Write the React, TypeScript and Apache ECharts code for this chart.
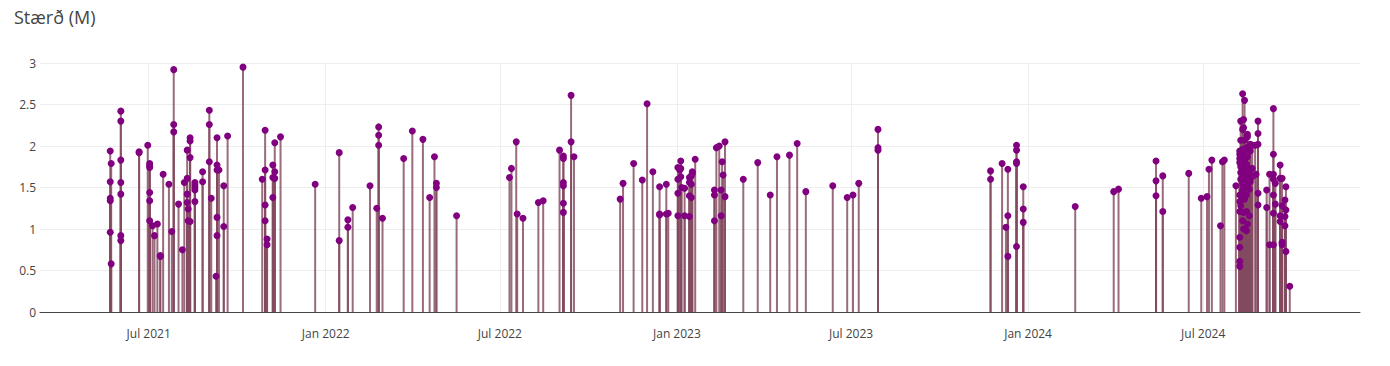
import { useEffect, useRef } from "react";
import * as echarts from "echarts";

const titleText = "Stærð (M)";
const monthNames = ["Jan", "Feb", "Mar", "Apr", "May", "Jun", "Jul", "Aug", "Sep", "Oct", "Nov", "Dec"];
const xTickDates = ["2021-07-01", "2022-01-01", "2022-07-01", "2023-01-01", "2023-07-01", "2024-01-01", "2024-07-01"];
const xRange = ["2021-03-10", "2024-12-11"];
const yTicks = [0, 0.5, 1, 1.5, 2, 2.5, 3];

const quakes2021: [string, number[]][] = [
  ["2021-05-22", [1.94, 1.57, 1.37, 1.34, 0.96]],
  ["2021-05-23", [1.79, 0.58]],
  ["2021-06-02", [2.42, 2.3, 1.83, 1.56, 1.42, 0.92, 0.86]],
  ["2021-06-21", [1.93, 1.92]],
  ["2021-06-30", [2.01]],
  ["2021-07-02", [1.79, 1.76, 1.74, 1.44, 1.34, 1.1]],
  ["2021-07-05", [1.04]],
  ["2021-07-07", [0.92]],
  ["2021-07-10", [1.06]],
  ["2021-07-13", [0.68, 0.67]],
  ["2021-07-16", [1.66]],
  ["2021-07-22", [1.54]],
  ["2021-07-25", [0.97]],
  ["2021-07-27", [2.92, 2.26, 2.17]],
  ["2021-08-01", [1.3]],
  ["2021-08-05", [0.75]],
  ["2021-08-07", [1.56]],
  ["2021-08-10", [1.95, 1.61, 1.42, 1.32]],
  ["2021-08-11", [1.24, 1.1]],
  ["2021-08-13", [2.1, 2.06, 1.86, 1.09]],
  ["2021-08-18", [1.56, 1.53, 1.5, 1.47, 1.33]],
  ["2021-08-26", [1.69, 1.57]],
  ["2021-09-02", [2.43, 2.26, 1.81]],
  ["2021-09-04", [1.37]],
  ["2021-09-09", [0.43]],
  ["2021-09-10", [2.1, 1.77, 1.71, 1.14, 0.92]],
  ["2021-09-12", [1.71]],
  ["2021-09-17", [1.52, 1.03]],
  ["2021-09-21", [2.12]],
  ["2021-10-07", [2.95]],
  ["2021-10-27", [1.6]],
  ["2021-10-30", [2.19, 1.71, 1.29, 1.1]],
  ["2021-11-01", [0.88, 0.81]],
  ["2021-11-07", [1.77, 1.62, 1.38]],
  ["2021-11-09", [2.04, 1.69, 1.61]],
  ["2021-11-15", [2.11]],
  ["2021-12-21", [1.54]],
];

const quakes2022: [string, number[]][] = [
  ["2022-01-15", [1.92, 0.86]],
  ["2022-01-24", [1.11, 1.02]],
  ["2022-01-29", [1.26]],
  ["2022-02-16", [1.52]],
  ["2022-02-23", [1.25]],
  ["2022-02-25", [2.23, 2.13, 2.01]],
  ["2022-03-01", [1.13]],
  ["2022-03-23", [1.85]],
  ["2022-04-01", [2.18]],
  ["2022-04-12", [2.08]],
  ["2022-04-19", [1.38]],
  ["2022-04-24", [1.87]],
  ["2022-04-26", [1.55, 1.5]],
  ["2022-05-17", [1.16]],
  ["2022-07-11", [1.62]],
  ["2022-07-13", [1.73]],
  ["2022-07-18", [2.05]],
  ["2022-07-19", [1.18]],
  ["2022-07-25", [1.13]],
  ["2022-08-10", [1.32]],
  ["2022-08-15", [1.34]],
  ["2022-09-01", [1.95]],
  ["2022-09-05", [1.88, 1.85, 1.56, 1.52, 1.31, 1.2]],
  ["2022-09-13", [2.61, 2.05]],
  ["2022-09-16", [1.87]],
  ["2022-11-03", [1.36]],
  ["2022-11-06", [1.55]],
  ["2022-11-17", [1.79]],
  ["2022-11-26", [1.59]],
  ["2022-12-01", [2.51]],
  ["2022-12-07", [1.69]],
  ["2022-12-14", [1.51, 1.18, 1.17]],
  ["2022-12-21", [1.54, 1.18]],
  ["2022-12-23", [1.19]],
];

const quakes2023: [string, number[]][] = [
  ["2023-01-02", [1.74, 1.6, 1.43, 1.16]],
  ["2023-01-04", [1.71]],
  ["2023-01-05", [1.82, 1.73, 1.63]],
  ["2023-01-06", [1.5]],
  ["2023-01-09", [1.49, 1.16]],
  ["2023-01-14", [1.62, 1.56, 1.4, 1.15]],
  ["2023-01-16", [1.64, 1.54, 1.38]],
  ["2023-01-17", [1.69, 1.67]],
  ["2023-01-20", [1.84]],
  ["2023-02-09", [1.47, 1.41, 1.1]],
  ["2023-02-11", [1.98]],
  ["2023-02-14", [2.0]],
  ["2023-02-16", [1.47, 1.16]],
  ["2023-02-17", [1.81]],
  ["2023-02-18", [1.65]],
  ["2023-02-20", [2.05, 1.39]],
  ["2023-03-11", [1.6]],
  ["2023-03-26", [1.8]],
  ["2023-04-08", [1.41]],
  ["2023-04-15", [1.87]],
  ["2023-04-28", [1.89]],
  ["2023-05-06", [2.03]],
  ["2023-05-15", [1.45]],
  ["2023-06-12", [1.52]],
  ["2023-06-27", [1.38]],
  ["2023-07-03", [1.41]],
  ["2023-07-09", [1.55]],
  ["2023-07-29", [2.2, 1.98, 1.95]],
  ["2023-11-23", [1.7, 1.6]],
  ["2023-12-05", [1.79]],
  ["2023-12-09", [1.02]],
  ["2023-12-11", [1.72, 1.16, 0.67]],
  ["2023-12-20", [2.01, 1.95, 1.81, 1.79, 0.79]],
  ["2023-12-27", [1.51, 1.24, 1.08]],
];

const quakes2024: [string, number[]][] = [
  ["2024-02-19", [1.27]],
  ["2024-03-30", [1.45]],
  ["2024-04-04", [1.48]],
  ["2024-05-13", [1.82, 1.58, 1.4]],
  ["2024-05-20", [1.64, 1.21]],
  ["2024-06-16", [1.67]],
  ["2024-06-29", [1.37]],
  ["2024-07-05", [1.39]],
  ["2024-07-07", [1.72]],
  ["2024-07-10", [1.83]],
  ["2024-07-19", [1.04]],
  ["2024-07-21", [1.81]],
  ["2024-07-23", [1.83]],
  ["2024-08-04", [1.52]],
  ["2024-08-08", [1.94, 1.9, 1.85, 1.8, 1.41, 1.33, 1.21, 0.9, 0.78, 0.61, 0.55]],
  ["2024-08-09", [2.3, 2.07, 1.75, 1.68, 1.6, 1.28]],
  ["2024-08-11", [2.63, 2.2, 1.96, 1.88, 1.72, 1.55, 1.46, 1.1]],
  ["2024-08-12", [2.32, 2.22, 1.92, 1.65, 1.5, 1.2, 1.0]],
  ["2024-08-13", [2.55, 2.07, 1.82, 1.7, 1.58, 1.36]],
  ["2024-08-15", [1.98, 1.78, 1.62, 1.41, 1.21, 0.98]],
  ["2024-08-16", [2.14, 2.11, 1.87, 1.74, 1.53, 1.06]],
  ["2024-08-18", [2.0, 1.67, 1.48, 1.16]],
  ["2024-08-19", [2.02, 1.94, 1.57]],
  ["2024-08-21", [2.01, 1.73, 1.63]],
  ["2024-08-24", [2.01]],
  ["2024-08-25", [1.66]],
  ["2024-08-27", [2.3, 2.15, 2.02, 1.43, 1.29]],
  ["2024-09-05", [1.47, 1.26]],
  ["2024-09-08", [1.66, 0.81]],
  ["2024-09-12", [2.45, 1.9, 1.66, 1.6, 1.41, 1.19, 0.81]],
  ["2024-09-14", [1.55, 1.3]],
  ["2024-09-19", [1.77, 1.61, 1.16, 1.09]],
  ["2024-09-21", [1.61, 1.28, 0.84, 0.81]],
  ["2024-09-24", [1.35, 1.15, 1.04]],
  ["2024-09-25", [1.51, 1.23, 0.73]],
  ["2024-09-29", [0.31]],
];

function toTs(s: string): number {
  const [y, m, d] = s.split("-").map(Number);
  return Date.UTC(y, m - 1, d);
}

export default function App() {
  const ref = useRef<HTMLDivElement>(null);

  useEffect(() => {
    document.body.style.margin = "0";
    if (!ref.current) return;
    const chart = echarts.init(ref.current, null, { renderer: "svg" });
    const all = [...quakes2021, ...quakes2022, ...quakes2023, ...quakes2024];
    const points: [number, number][] = [];
    all.forEach(([d, vs]) => vs.forEach((v) => points.push([toTs(d), v])));
    const font = "'Open Sans', verdana, arial, sans-serif";
    const tickVals = xTickDates.map(toTs);

    chart.setOption({
      animation: false,
      title: {
        text: titleText,
        left: 14,
        top: 8,
        padding: 0,
        textStyle: { fontFamily: font, fontSize: 18, fontWeight: "normal", color: "#444" },
      },
      grid: { left: 40, right: 30, top: 63, bottom: 54, containLabel: false },
      xAxis: {
        type: "value",
        min: toTs(xRange[0]),
        max: toTs(xRange[1]),
        axisLine: { show: true, onZero: true, lineStyle: { color: "#444", width: 1 } },
        axisTick: { show: false, customValues: tickVals },
        axisLabel: {
          customValues: tickVals,
          color: "#444",
          fontFamily: font,
          fontSize: 12,
          margin: 15,
          hideOverlap: false,
          formatter: (val: number) => {
            const d = new Date(val);
            return monthNames[d.getUTCMonth()] + " " + d.getUTCFullYear();
          },
        },
        splitLine: { show: true, lineStyle: { color: "#eee", width: 1 } },
      },
      yAxis: {
        type: "value",
        min: yTicks[0],
        max: yTicks[yTicks.length - 1],
        interval: 0.5,
        axisLine: { show: false },
        axisTick: { show: false },
        axisLabel: { color: "#444", fontFamily: font, fontSize: 12, margin: 4 },
        splitLine: { show: true, lineStyle: { color: "#eee", width: 1 } },
      },
      series: [
        {
          type: "bar",
          data: points,
          barWidth: 2,
          barGap: "-100%",
          itemStyle: { color: "rgba(130, 75, 95, 0.82)" },
          z: 2,
        },
        {
          type: "scatter",
          data: points,
          symbol: "circle",
          symbolSize: 7,
          itemStyle: { color: "#800080", opacity: 1 },
          z: 3,
        },
      ],
    });
    return () => chart.dispose();
  }, []);

  return <div ref={ref} style={{ width: 1390, height: 366 }} />;
}
